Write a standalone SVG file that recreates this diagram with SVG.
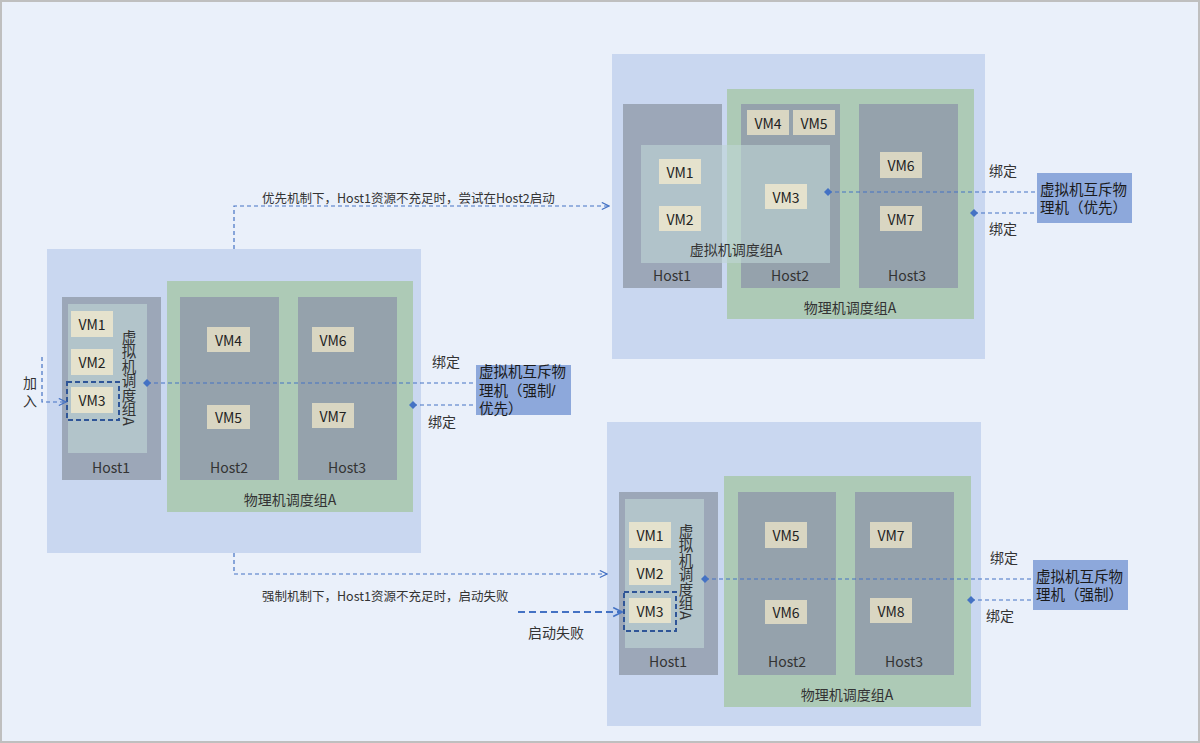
<svg xmlns="http://www.w3.org/2000/svg" width="1200" height="743" viewBox="0 0 1200 743">
<defs>
<style>
text{font-family:"Noto Sans CJK SC","Liberation Sans",sans-serif;fill:#333;}
.outer{fill:#C9D7F0;}
.green{fill:#ADCAB6;}
.h1{fill:#9CA7B8;}
.h{fill:#95A2AC;}
.vg{fill:#B2C4CA;}
.vm{fill:#E5E2CD;}
.vmd{fill:#D9D6C2;}
.lbl{font-size:14px;text-anchor:middle;dominant-baseline:central;}
.vmt{font-size:14px;text-anchor:middle;dominant-baseline:central;fill:#222;}
.cap{font-size:12.5px;dominant-baseline:central;}
.bt{font-size:14.5px;fill:#1a1a1a;font-family:"Liberation Sans","Noto Sans CJK SC",sans-serif;}
.box{fill:#8DA8DB;}
.vt{font-size:14.5px;writing-mode:tb;}
.conn{fill:none;stroke:#4472C4;stroke-width:1.2;stroke-dasharray:4 3;}
.sel{fill:none;stroke:#2F5597;stroke-width:2;stroke-dasharray:5 3;}
</style>
<marker id="arr" viewBox="0 0 10 10" refX="9" refY="5" markerWidth="9" markerHeight="9" markerUnits="userSpaceOnUse" orient="auto"><path d="M1,1 L9,5 L1,9" fill="none" stroke="#4472C4" stroke-width="1.3"/></marker>
<marker id="arr2" viewBox="0 0 10 10" refX="9" refY="5" markerWidth="11" markerHeight="11" markerUnits="userSpaceOnUse" orient="auto"><path d="M1,1 L9,5 L1,9" fill="none" stroke="#4472C4" stroke-width="1.5"/></marker>
<marker id="dia" viewBox="0 0 10 10" refX="5" refY="5" markerWidth="8" markerHeight="8" markerUnits="userSpaceOnUse" orient="auto"><path d="M5,0 L10,5 L5,10 L0,5 Z" fill="#4472C4"/></marker>
</defs>
<rect x="1" y="1" width="1198" height="741" fill="#EAF0FA" stroke="#BFBFBF" stroke-width="2"/>

<!-- Left diagram -->
<g id="left-group">
<rect class="outer" x="47" y="249" width="374" height="304"/>
<rect class="green" x="167" y="281" width="246" height="231"/>
<text class="lbl" x="290" y="499">物理机调度组A</text>
</g>
<g id="left-host1">
<rect class="h1" x="62" y="297" width="99" height="183"/>
<rect class="vg" x="68" y="304" width="79" height="149"/>
<text class="vt" x="129" y="330">虚拟机调度组A</text>
<text class="lbl" x="111" y="467">Host1</text>
</g>
<g id="left-vm1"><rect class="vm" x="71" y="311" width="42" height="26"/><text class="vmt" x="92" y="324">VM1</text></g>
<g id="left-vm2"><rect class="vm" x="71" y="349" width="42" height="26"/><text class="vmt" x="92" y="362">VM2</text></g>
<g id="left-vm3"><rect class="vm" x="71" y="387" width="42" height="26"/><text class="vmt" x="92" y="400">VM3</text><rect class="sel" x="67" y="382" width="52" height="38"/></g>
<g id="left-host2">
<rect class="h" x="180" y="297" width="99" height="183"/>
<text class="lbl" x="229" y="467">Host2</text>
<rect class="vmd" x="207" y="327" width="43" height="25"/><text class="vmt" x="228.5" y="339.5">VM4</text>
<rect class="vmd" x="207" y="405" width="43" height="24"/><text class="vmt" x="228.5" y="417">VM5</text>
</g>
<g id="left-host3">
<rect class="h" x="298" y="297" width="99" height="183"/>
<text class="lbl" x="347" y="467">Host3</text>
<rect class="vmd" x="312" y="327" width="42" height="25"/><text class="vmt" x="333" y="339.5">VM6</text>
<rect class="vmd" x="312" y="403" width="42" height="25"/><text class="vmt" x="333" y="415.5">VM7</text>
</g>
<g id="left-box">
<rect class="box" x="476" y="365" width="95" height="50"/>
<text class="bt"><tspan x="479" y="377">虚拟机互斥物</tspan><tspan x="479" y="396">理机（强制/</tspan><tspan x="479" y="414">优先）</tspan></text>
</g>

<!-- Top-right diagram -->
<g id="tr-group">
<rect class="outer" x="612" y="54" width="373" height="305"/>
<rect class="green" x="727" y="89" width="247" height="230"/>
<text class="lbl" x="850" y="307">物理机调度组A</text>
</g>
<g id="tr-host1">
<rect class="h1" x="623" y="104" width="99" height="184"/>
<text class="lbl" x="672" y="275">Host1</text>
</g>
<g id="tr-host2">
<rect class="h" x="741" y="104" width="99" height="184"/>
<text class="lbl" x="790" y="275">Host2</text>
<rect class="vmd" x="747" y="110" width="42" height="25"/><text class="vmt" x="768" y="122.5">VM4</text>
<rect class="vmd" x="793" y="110" width="42" height="25"/><text class="vmt" x="814" y="122.5">VM5</text>
</g>
<g id="tr-host3">
<rect class="h" x="859" y="104" width="99" height="184"/>
<text class="lbl" x="907" y="275">Host3</text>
<rect class="vmd" x="880" y="152" width="42" height="26"/><text class="vmt" x="901" y="165">VM6</text>
<rect class="vmd" x="880" y="206" width="42" height="25"/><text class="vmt" x="901" y="218.5">VM7</text>
</g>
<g id="tr-vmgroup">
<rect x="641" y="145" width="189" height="118" fill="#C0D6D6" fill-opacity="0.6"/>
<rect class="vm" x="659" y="159" width="42" height="25"/><text class="vmt" x="680" y="171.5">VM1</text>
<rect class="vm" x="659" y="206" width="42" height="25"/><text class="vmt" x="680" y="218.5">VM2</text>
<rect class="vm" x="765" y="184" width="42" height="25"/><text class="vmt" x="786" y="196.5">VM3</text>
<text class="lbl" x="736" y="249">虚拟机调度组A</text>
</g>
<g id="tr-box">
<rect class="box" x="1037" y="173" width="95" height="50"/>
<text class="bt"><tspan x="1040" y="195">虚拟机互斥物</tspan><tspan x="1040" y="213">理机（优先）</tspan></text>
</g>

<!-- Bottom-right diagram -->
<g id="br-group">
<rect class="outer" x="607" y="422" width="374" height="304"/>
<rect class="green" x="724" y="476" width="247" height="231"/>
<text class="lbl" x="847" y="694">物理机调度组A</text>
</g>
<g id="br-host1">
<rect class="h1" x="619" y="492" width="99" height="183"/>
<rect class="vg" x="625" y="499" width="79" height="149"/>
<text class="vt" x="686" y="524">虚拟机调度组A</text>
<text class="lbl" x="668" y="661">Host1</text>
</g>
<g id="br-vm1"><rect class="vm" x="629" y="522" width="42" height="26"/><text class="vmt" x="650" y="535">VM1</text></g>
<g id="br-vm2"><rect class="vm" x="629" y="560" width="42" height="25"/><text class="vmt" x="650" y="572.5">VM2</text></g>
<g id="br-vm3"><rect class="vm" x="629" y="598" width="42" height="25"/><text class="vmt" x="650" y="610.5">VM3</text><rect class="sel" x="624" y="592" width="52" height="39"/></g>
<g id="br-host2">
<rect class="h" x="738" y="492" width="98" height="183"/>
<text class="lbl" x="787" y="661">Host2</text>
<rect class="vmd" x="765" y="522" width="42" height="26"/><text class="vmt" x="786" y="535">VM5</text>
<rect class="vmd" x="765" y="600" width="42" height="24"/><text class="vmt" x="786" y="612">VM6</text>
</g>
<g id="br-host3">
<rect class="h" x="855" y="492" width="99" height="183"/>
<text class="lbl" x="904" y="661">Host3</text>
<rect class="vmd" x="870" y="522" width="42" height="26"/><text class="vmt" x="891" y="535">VM7</text>
<rect class="vmd" x="870" y="598" width="42" height="25"/><text class="vmt" x="891" y="610.5">VM8</text>
</g>
<g id="br-box">
<rect class="box" x="1033" y="560" width="95" height="50"/>
<text class="bt"><tspan x="1036" y="582">虚拟机互斥物</tspan><tspan x="1036" y="600">理机（强制）</tspan></text>
</g>

<!-- Connectors -->
<g id="connectors">
<path class="conn" d="M42,357 V402 H66" marker-end="url(#arr)"/>
<path class="conn" d="M234,249 V206 H609" marker-end="url(#arr)"/>
<path class="conn" d="M234,553 V574 H607" marker-end="url(#arr)"/>
<path class="conn" d="M518,612 H622" style="stroke-width:2;stroke-dasharray:7 4" marker-end="url(#arr2)"/>
<path class="conn" d="M147,383 H476" marker-start="url(#dia)"/>
<path class="conn" d="M413,405 H476" marker-start="url(#dia)"/>
<path class="conn" d="M828,192 H1037" marker-start="url(#dia)"/>
<path class="conn" d="M974,213 H1037" marker-start="url(#dia)"/>
<path class="conn" d="M705,579 H1033" marker-start="url(#dia)"/>
<path class="conn" d="M971,600 H1033" marker-start="url(#dia)"/>
</g>

<!-- Connector labels -->
<g id="labels">
<text x="23" y="382" style="font-size:14px;dominant-baseline:central">加</text>
<text x="23" y="400" style="font-size:14px;dominant-baseline:central">入</text>
<text class="cap" x="262" y="197">优先机制下，Host1资源不充足时，尝试在Host2启动</text>
<text class="cap" x="262" y="595">强制机制下，Host1资源不充足时，启动失败</text>
<text x="528" y="632" style="font-size:14px;dominant-baseline:central">启动失败</text>
<text x="432" y="361" style="font-size:14px;dominant-baseline:central">绑定</text>
<text x="428" y="421" style="font-size:14px;dominant-baseline:central">绑定</text>
<text x="989" y="170" style="font-size:14px;dominant-baseline:central">绑定</text>
<text x="989" y="228" style="font-size:14px;dominant-baseline:central">绑定</text>
<text x="990" y="557" style="font-size:14px;dominant-baseline:central">绑定</text>
<text x="986" y="615" style="font-size:14px;dominant-baseline:central">绑定</text>
</g>
</svg>
